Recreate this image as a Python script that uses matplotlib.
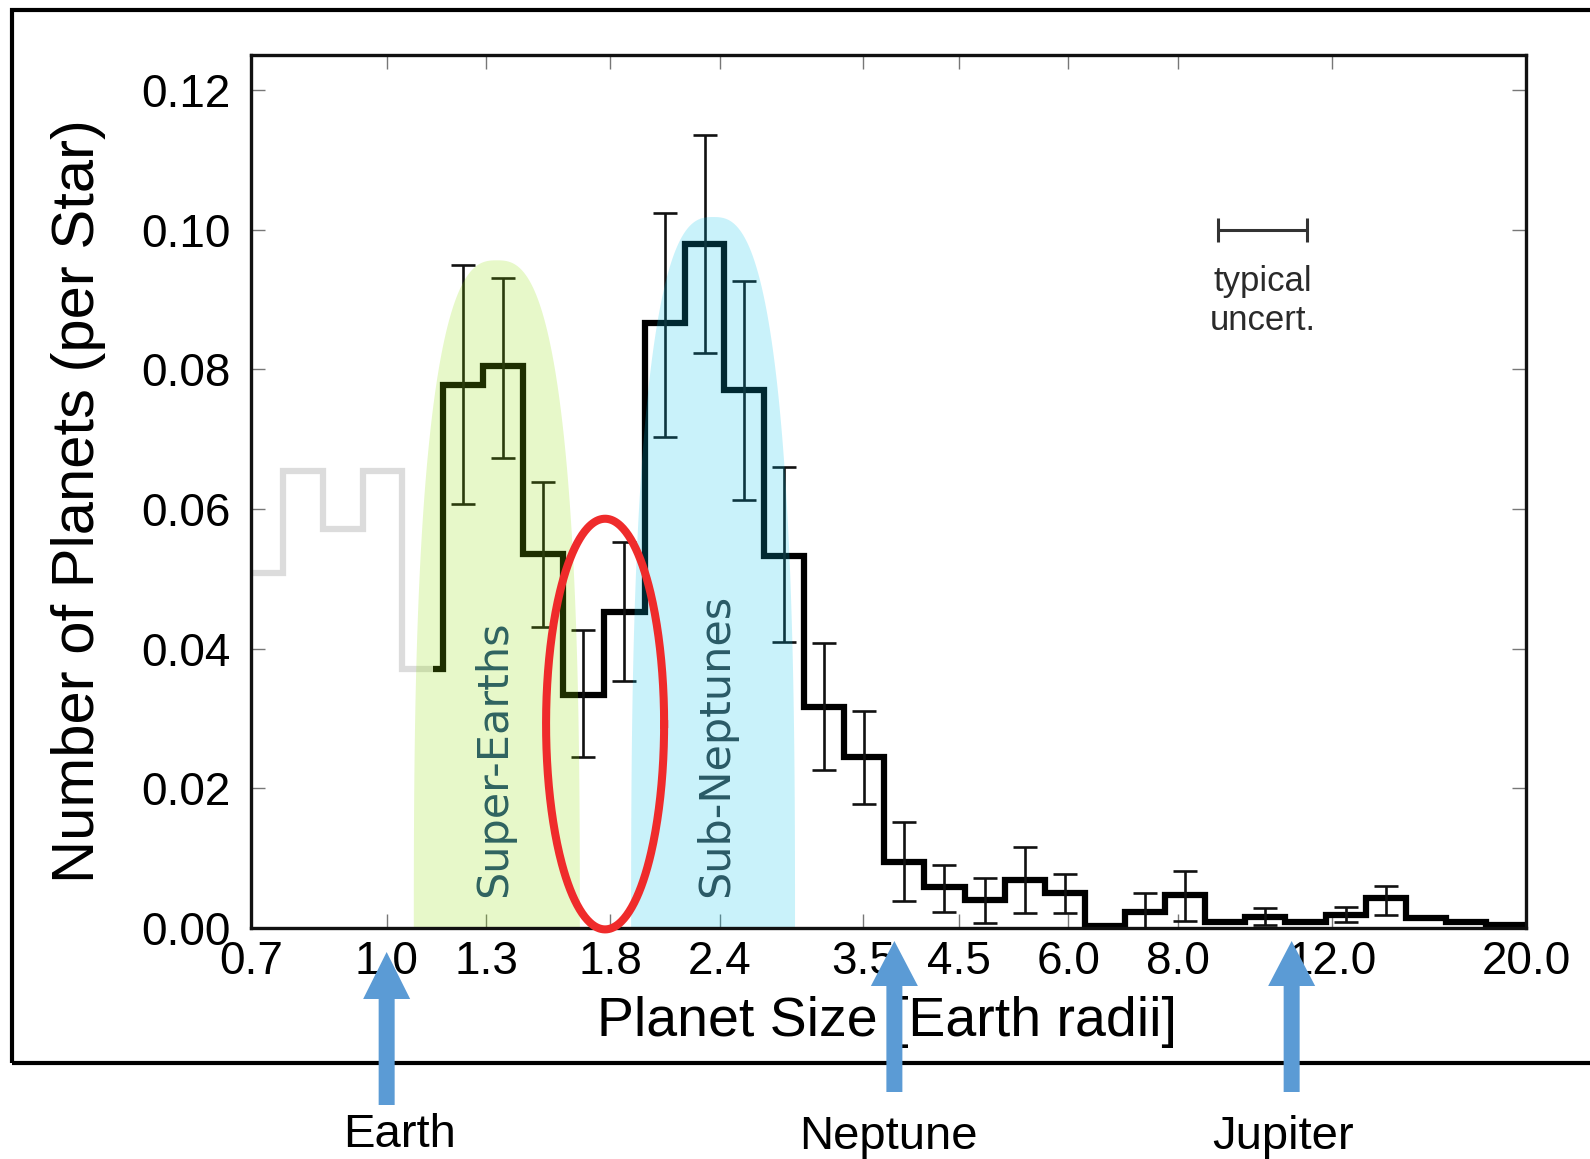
import numpy as np
import matplotlib
matplotlib.use("Agg")
import matplotlib.pyplot as plt
from matplotlib.patches import Polygon, Rectangle

plt.rcParams["font.family"] = ["Liberation Sans", "DejaVu Sans"]

# Log-uniform radius bins (Earth radii), each ~11% wide
BIN_EDGES = [0.685, 0.761, 0.846, 0.940, 1.04, 1.16, 1.29, 1.43, 1.59, 1.77,
             1.97, 2.19, 2.43, 2.70, 3.00, 3.33, 3.70, 4.11, 4.57, 5.08,
             5.64, 6.27, 6.97, 7.74, 8.61, 9.56, 10.62, 11.81, 13.12, 14.58,
             16.20, 18.00, 20.00]
# planets per star in each bin
OCCURRENCE = [0.0508, 0.0654, 0.0571, 0.0654, 0.0371, 0.0777, 0.0804, 0.0536,
              0.0334, 0.0453, 0.0866, 0.0980, 0.0770, 0.0533, 0.0317, 0.0245,
              0.0095, 0.0059, 0.0040, 0.0069, 0.0050, 0.0003, 0.0023, 0.0047,
              0.0009, 0.0016, 0.0009, 0.0019, 0.0043, 0.0014, 0.0009, 0.0005]
# 1-sigma range per bin (None = no bar drawn)
ERR_LO = [None, None, None, None, None, 0.0607, 0.0673, 0.0431,
          0.0245, 0.0353, 0.0703, 0.0823, 0.0613, 0.0410, 0.0226, 0.0178,
          0.0038, 0.0023, 0.0007, 0.0021, 0.0021, None, 0.0000, 0.0010,
          None, 0.0004, None, 0.0008, 0.0019, None, None, None]
ERR_HI = [None, None, None, None, None, 0.0949, 0.0931, 0.0639,
          0.0427, 0.0553, 0.1024, 0.1135, 0.0927, 0.0660, 0.0408, 0.0310,
          0.0152, 0.0090, 0.0071, 0.0116, 0.0078, None, 0.0050, 0.0081,
          None, 0.0028, None, 0.0030, 0.0060, None, None, None]
COMPLETENESS_CUT = 1.13   # smaller planets shown in gray

XTICKS = [0.7, 1.0, 1.3, 1.8, 2.4, 3.5, 4.5, 6.0, 8.0, 12.0, 20.0]
YTICKS = [0.00, 0.02, 0.04, 0.06, 0.08, 0.10, 0.12]

# populations: centre radius, half-width (dex), peak height
REGION_NAMES = ["Super-Earths", "Sub-Neptunes"]
REGION_CENTER = [1.336, 2.359]
REGION_HALFDEX = [0.0948, 0.0936]
REGION_TOP = [0.0956, 0.1018]
REGION_FILL = ["#8ee000", "#00c3eb"]
REGION_TEXT = ["#2f6360", "#2a5a66"]
REGION_LABEL_X = [1.326, 2.377]

# radius gap highlight
GAP_CENTER = 1.776
GAP_HALFDEX = 0.0674
GAP_YMID = 0.0292
GAP_HALFY = 0.0294

TYPICAL_X = 10.0
TYPICAL_Y = 0.0999
TYPICAL_FRAC = 0.124

PLANETS = ["Earth", "Neptune", "Jupiter"]
PLANET_RADII = [1.0, 3.8, 10.8]

W, H = 1590, 1159
fig = plt.figure(figsize=(W / 100, H / 100), dpi=100)
ax = fig.add_axes([251 / W, 1 - 928 / H, 1275 / W, 873 / H])
ax.set_xscale("log")
ax.set_xlim(0.7, 20.0)
ax.set_ylim(0, 0.125)

edges = np.array(BIN_EDGES)
occ = np.array(OCCURRENCE)
centers = np.sqrt(edges[:-1] * edges[1:])

# histogram: gray below completeness cut, black above
gray_edges = list(edges[:5]) + [COMPLETENESS_CUT]
ax.stairs(occ[:5], gray_edges, baseline=None, color="#dcdcdc", lw=4.5,
          joinstyle="miter", zorder=1.5)
black_edges = [COMPLETENESS_CUT] + list(edges[5:])
ax.stairs(occ[4:], black_edges, baseline=None, color="black", lw=4.5,
          joinstyle="miter", zorder=1.6)

has_err = np.array([v is not None for v in ERR_LO])
lo = np.array([v if v is not None else 0 for v in ERR_LO])
hi = np.array([v if v is not None else 0 for v in ERR_HI])
ax.errorbar(centers[has_err], occ[has_err],
            yerr=[occ[has_err] - lo[has_err], hi[has_err] - occ[has_err]],
            fmt="none", ecolor="#111111", elinewidth=1.9, capsize=8.3,
            capthick=1.9, zorder=1.7)

# translucent population arches
t = np.linspace(0, np.pi, 300)
for name, c, hd, top, fc, tc, lx in zip(REGION_NAMES, REGION_CENTER, REGION_HALFDEX,
                                       REGION_TOP, REGION_FILL, REGION_TEXT,
                                       REGION_LABEL_X):
    n = 2.7
    cs, sn = np.cos(t), np.sin(t)
    xs = 10 ** (np.log10(c) + hd * np.sign(cs) * np.abs(cs) ** (2 / n))
    ys = top * np.abs(sn) ** (2 / n)
    ax.fill(xs, ys, color=fc, alpha=0.21, lw=0, zorder=2)
    ax.text(lx, 0.0044, name, rotation=90, ha="center", va="bottom",
            fontsize=31, color=tc, family="DejaVu Sans", zorder=3)

# red ellipse around the gap
tt = np.linspace(0, 2 * np.pi, 400)
gx = 10 ** (np.log10(GAP_CENTER) + GAP_HALFDEX * np.cos(tt))
gy = GAP_YMID + GAP_HALFY * np.sin(tt)
ax.plot(gx, gy, color="#ef2b2b", lw=5.8, zorder=5, clip_on=False)

# typical uncertainty bar
ax.errorbar([TYPICAL_X], [TYPICAL_Y],
            xerr=[[TYPICAL_X - TYPICAL_X / (1 + TYPICAL_FRAC)], [TYPICAL_X * TYPICAL_FRAC]],
            fmt="none", ecolor="#333333", elinewidth=2.2, capsize=8.5, capthick=2.2)
ax.text(TYPICAL_X, 0.0950, "typical\nuncert.", ha="center", va="top",
        fontsize=25, color="#2a2a2a", linespacing=1.25)

ax.set_xticks(XTICKS)
ax.set_xticklabels([f"{v:.1f}" for v in XTICKS])
ax.xaxis.set_minor_locator(plt.NullLocator())
ax.set_yticks(YTICKS)
ax.set_yticklabels([f"{v:.2f}" for v in YTICKS])
ax.tick_params(axis="both", which="major", direction="in", length=10, width=1.0,
               color="#777777", top=True, right=True, labelsize=33)
ax.tick_params(axis="x", pad=9)
ax.tick_params(axis="y", pad=15)
for sp in ax.spines.values():
    sp.set_linewidth(2.4)
    sp.set_color("#111111")

ax.set_xlabel("Planet Size [Earth radii]", fontsize=40, va="center")
ax.xaxis.set_label_coords(0.499, -0.108)
ax.set_ylabel("Number of Planets (per Star)", fontsize=43, va="center")
ax.yaxis.set_label_coords(-0.135, 0.489)

# outer frame of the panel
fig.patches.append(Rectangle((12 / W, 1 - 1063 / H), 1.2, (1063 - 10) / H,
                             transform=fig.transFigure, fill=False,
                             ec="black", lw=3.0))

# planet markers below the axis
arrow_geom = [(952, 999, 1105), (941, 986, 1092), (941, 986, 1092)]
label_dx = [13, -6, -9]
label_base = [1147, 1149, 1149]
for name, r, (tip, base, bot), dx, yb in zip(PLANETS, PLANET_RADII, arrow_geom,
                                             label_dx, label_base):
    px = ax.transData.transform((r, 0.0))[0]
    hw, sw = 23.5, 8
    pts = [(px, tip), (px + hw, base), (px + sw, base), (px + sw, bot),
           (px - sw, bot), (px - sw, base), (px - hw, base)]
    pts = [(x / W, 1 - y / H) for x, y in pts]
    fig.patches.append(Polygon(pts, closed=True, transform=fig.transFigure,
                               fc="#5b9bd5", ec="none", zorder=10))
    fig.text((px + dx) / W, 1 - yb / H, name, ha="center", va="baseline",
             fontsize=34, color="black")

fig.savefig("out.png", dpi=100)
